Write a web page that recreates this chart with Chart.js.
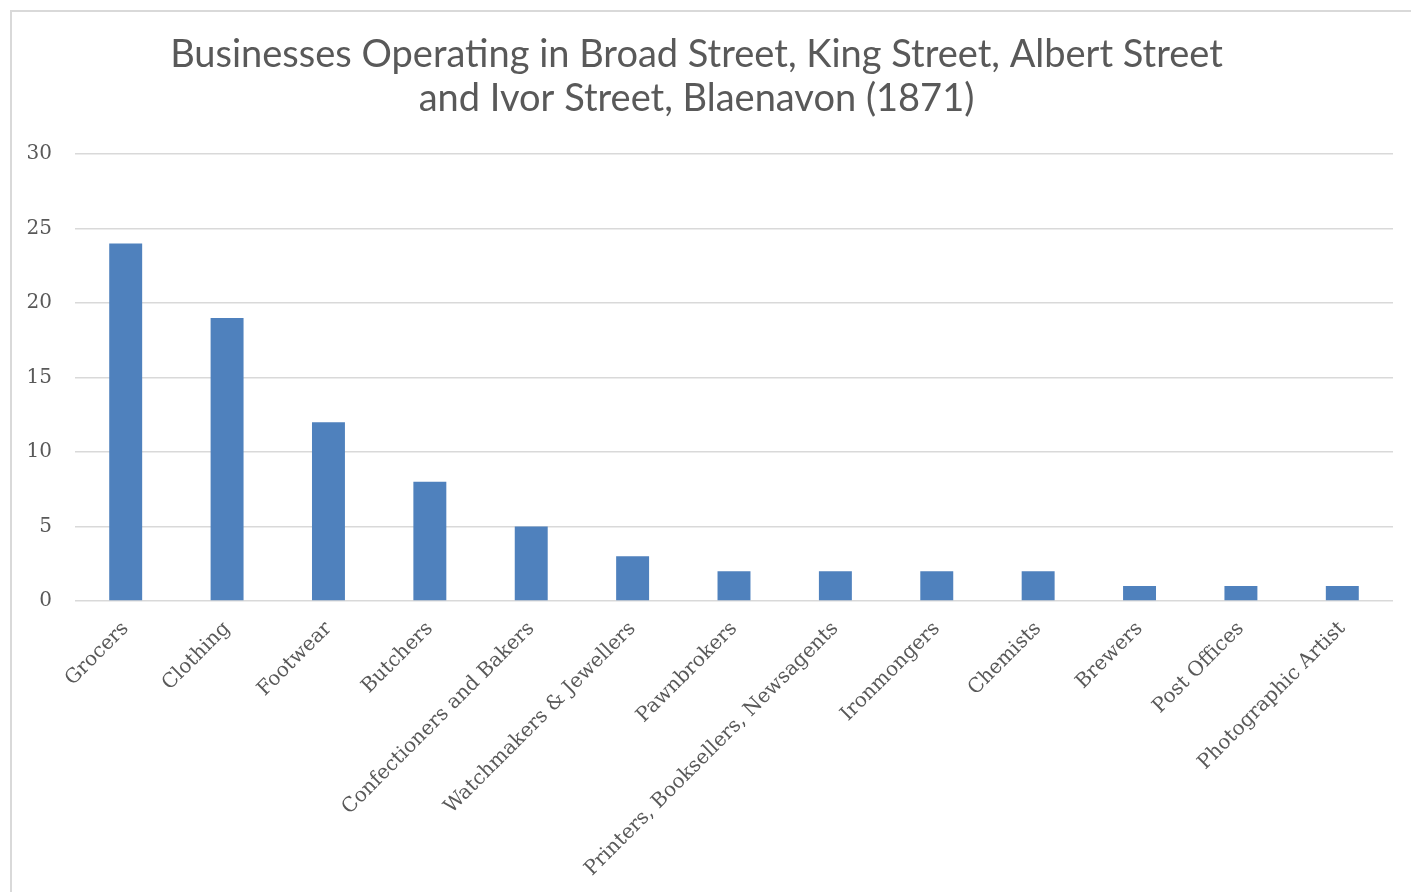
<!DOCTYPE html>
<html>
<head>
<meta charset="utf-8">
<script src="https://cdn.jsdelivr.net/npm/chart.js@4"></script>
<style>
  html, body { margin:0; padding:0; background:#fff; overflow:hidden; }
  #frame { position:absolute; left:10px; top:10px; width:1420px; height:900px; border:2px solid #d9d9d9; box-sizing:border-box; }
  #wrap { position:absolute; left:0; top:0; width:1411px; height:892px; }
</style>
</head>
<body>
<div id="frame"></div>
<div id="wrap"><canvas id="chart"></canvas></div>
<script>
// Businesses in Blaenavon streets, 1871
const titleLines = ['Businesses Operating in Broad Street, King Street, Albert Street', 'and Ivor Street, Blaenavon (1871)'];
const categories = ['Grocers','Clothing','Footwear','Butchers','Confectioners and Bakers','Watchmakers & Jewellers','Pawnbrokers','Printers, Booksellers, Newsagents','Ironmongers','Chemists','Brewers','Post Offices','Photographic Artist'];
const counts = [24, 19, 12, 8, 5, 3, 2, 2, 2, 2, 1, 1, 1];
const yTicks = [0, 5, 10, 15, 20, 25, 30];

const grey = '#595959';
const serif = "'DejaVu Serif', 'Liberation Serif', serif";

new Chart(document.getElementById('chart').getContext('2d'), {
  type: 'bar',
  data: {
    labels: categories,
    datasets: [{ data: counts, backgroundColor: '#4f81bd', barPercentage: 0.325, categoryPercentage: 1 }]
  },
  options: {
    responsive: true,
    maintainAspectRatio: false,
    animation: false,
    layout: { padding: { top: 10, right: 18, bottom: 0, left: 0 } },
    plugins: {
      legend: { display: false },
      tooltip: { enabled: false },
      title: {
        display: true,
        text: titleLines,
        color: grey,
        font: { family: 'Lato, sans-serif', size: 38, weight: 'normal', lineHeight: 1.16 },
        padding: { top: 23, bottom: 33 }
      }
    },
    scales: {
      x: {
        grid: { display: false, drawTicks: false },
        border: { display: false },
        ticks: { color: grey, font: { family: serif, size: 20 }, minRotation: 45, maxRotation: 45, padding: 16, autoSkip: false },
        afterFit: s => { s.height = 291; }
      },
      y: {
        min: 0, max: 30,
        afterBuildTicks: s => { s.ticks = yTicks.map(v => ({ value: v })); },
        grid: { color: '#d9d9d9', lineWidth: 1.5, drawTicks: false },
        border: { display: false },
        ticks: { color: grey, font: { family: serif, size: 20 }, padding: 23 },
        afterFit: s => { s.width = 75; }
      }
    }
  }
});
</script>
</body>
</html>
